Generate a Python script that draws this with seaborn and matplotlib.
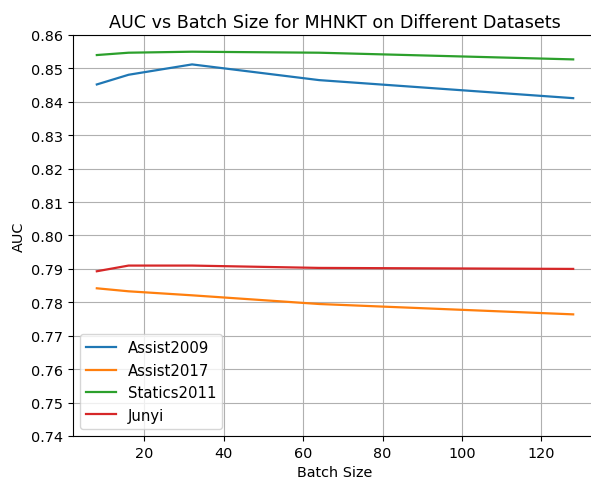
import numpy as np
import pandas as pd
import matplotlib
matplotlib.use("Agg")
import matplotlib.pyplot as plt
import seaborn as sns

# ---------------------------------------------------------------
# DATA
# ---------------------------------------------------------------
batch_sizes = [8, 16, 32, 64, 128]
datasets = ["Assist2009", "Assist2017", "Statics2011", "Junyi"]

auc_assist2009 = [0.8452, 0.8481, 0.8512, 0.8465, 0.8411]
auc_assist2017 = [0.7842, 0.7833, 0.7821, 0.7795, 0.7764]
auc_statics2011 = [0.8540, 0.8547, 0.8550, 0.8547, 0.8527]
auc_junyi = [0.7893, 0.7910, 0.7910, 0.7903, 0.7900]

series = [auc_assist2009, auc_assist2017, auc_statics2011, auc_junyi]

rows = []
for name, vals in zip(datasets, series):
    for bs, v in zip(batch_sizes, vals):
        rows.append({"Batch Size": bs, "AUC": v, "Dataset": name})
df = pd.DataFrame(rows)

# ---------------------------------------------------------------
# PLOT
# ---------------------------------------------------------------
plt.rcParams["font.family"] = ["DejaVu Sans"]

fig = plt.figure(figsize=(5.91, 4.81), dpi=100)
ax = fig.add_axes([73 / 591, 1 - 437 / 481, 524 / 591, 401 / 481])

sns.lineplot(data=df, x="Batch Size", y="AUC", hue="Dataset",
             hue_order=datasets, palette="tab10", ax=ax, linewidth=1.6)

ax.set_ylim(0.74, 0.86)
ax.set_yticks(np.arange(0.74, 0.8601, 0.01))
ax.set_xlim(2, 134)
ax.grid(True, color="#b0b0b0", linewidth=0.8)
ax.tick_params(labelsize=10.4)
ax.set_title("AUC vs Batch Size for MHNKT on Different Datasets", fontsize=12.6)
ax.set_xlabel("Batch Size", fontsize=10.4)
ax.set_ylabel("AUC", fontsize=10.4)
ax.legend(loc="lower left", title=None, fontsize=10.7)

fig.savefig("out.png", dpi=100)
